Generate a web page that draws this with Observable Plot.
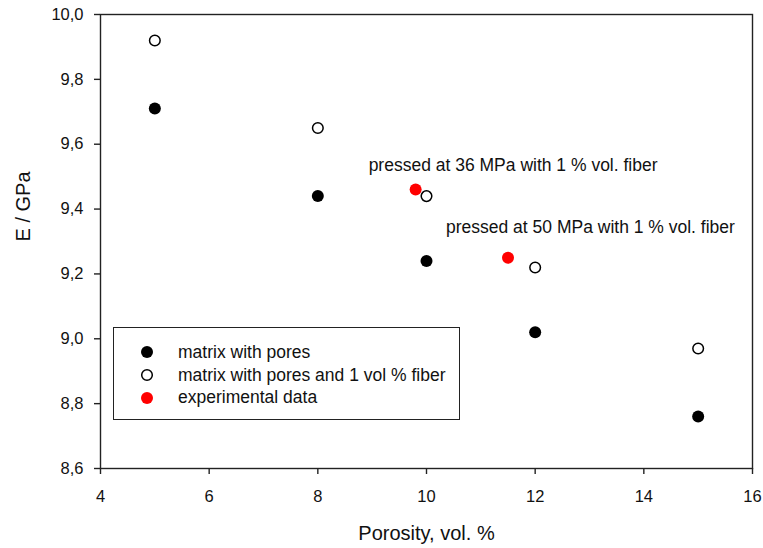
<!DOCTYPE html>
<html>
<head>
<meta charset="utf-8">
<script src="https://cdn.jsdelivr.net/npm/d3@7"></script>
<script src="https://cdn.jsdelivr.net/npm/@observablehq/plot@0.6"></script>
<style>
  html, body { margin: 0; padding: 0; background: #fff; }
  #chart { position: relative; width: 763px; height: 548px; font-family: "Liberation Sans", Arial, sans-serif; }
  #chart svg { display: block; }
  .legend { position: absolute; left: 113px; top: 327px; width: 347px; height: 93px; box-sizing: border-box;
            border: 1.4px solid #222; background: #fff; padding-top: 13px; }
  .legend .row { height: 22.7px; line-height: 22.7px; font-size: 17.5px; color: #111; white-space: nowrap; display: flex; align-items: center; }
  .legend svg { margin-left: 26px; margin-right: 24px; flex: none; }
</style>
</head>
<body>
<div id="chart"></div>
<script>
// --- data ---
const porosity = [5, 8, 10, 12, 15];
const eMatrix = [9.71, 9.44, 9.24, 9.02, 8.76];
const eFiber = [9.92, 9.65, 9.44, 9.22, 8.97];
const expPorosity = [9.8, 11.5];
const expE = [9.46, 9.25];
const expLabels = ["pressed at 36 MPa with 1 % vol. fiber", "pressed at 50 MPa with 1 % vol. fiber"];
const xTicks = [4, 6, 8, 10, 12, 14, 16];
const yTicks = [8.6, 8.8, 9.0, 9.2, 9.4, 9.6, 9.8, 10.0];
const seriesNames = ["matrix with pores", "matrix with pores and 1 vol % fiber", "experimental data"];
const xLabel = "Porosity, vol. %";
const yLabel = "E / GPa";

const matrixRows = porosity.map((p, i) => ({p, e: eMatrix[i]}));
const fiberRows = porosity.map((p, i) => ({p, e: eFiber[i]}));
const expRows = expPorosity.map((p, i) => ({p, e: expE[i], label: expLabels[i]}));

const ink = "#111";
const chart = Plot.plot({
  width: 763,
  height: 548,
  marginLeft: 100,
  marginRight: 11,
  marginTop: 14,
  marginBottom: 80,
  style: {fontFamily: "'Liberation Sans', Arial, sans-serif", color: ink, background: "#fff"},
  x: {domain: [4, 16]},
  y: {domain: [8.6, 10.0]},
  marks: [
    Plot.frame({stroke: "#222", strokeWidth: 1.4}),
    Plot.axisX(xTicks, {tickSize: 6, tickPadding: 16, fontSize: 16.5, stroke: "#222", strokeWidth: 1.4, label: null, tickFormat: d => String(d)}),
    Plot.axisY(yTicks, {tickSize: 6, tickPadding: 11, fontSize: 16.5, stroke: "#222", strokeWidth: 1.4, label: null, tickFormat: d => d.toFixed(1).replace(".", ",")}),
    Plot.text([xLabel], {frameAnchor: "bottom", dy: 65, fontSize: 20, lineAnchor: "middle", fill: ink}),
    Plot.text([yLabel], {frameAnchor: "left", dx: -77, rotate: -90, fontSize: 20, lineAnchor: "middle", fill: ink}),
    Plot.dot(matrixRows, {x: "p", y: "e", r: 6, fill: "#000", stroke: "none"}),
    Plot.dot(expRows, {x: "p", y: "e", r: 6, fill: "#ff0000", stroke: "none"}),
    Plot.dot(fiberRows, {x: "p", y: "e", r: 5.3, fill: "#fff", stroke: "#000", strokeWidth: 1.5}),
    Plot.text(expRows.slice(0, 1), {x: "p", y: "e", text: "label", textAnchor: "start", dx: -47, dy: -24, fontSize: 17.5, fill: ink}),
    Plot.text(expRows.slice(1, 2), {x: "p", y: "e", text: "label", textAnchor: "start", dx: -62, dy: -30, fontSize: 17.5, fill: ink})
  ]
});

const container = document.getElementById("chart");
container.appendChild(chart);

// legend (HTML overlay inside plot area)
const legendStyles = [
  {fill: "#000", stroke: "none", r: 6},
  {fill: "#fff", stroke: "#000", r: 5.3},
  {fill: "#ff0000", stroke: "none", r: 6}
];
const legend = d3.select(container).append("div").attr("class", "legend");
seriesNames.forEach((name, i) => {
  const row = legend.append("div").attr("class", "row");
  const s = row.append("svg").attr("width", 14).attr("height", 14);
  s.append("circle").attr("cx", 7).attr("cy", 7).attr("r", legendStyles[i].r)
    .attr("fill", legendStyles[i].fill).attr("stroke", legendStyles[i].stroke).attr("stroke-width", 1.5);
  row.append("span").text(name);
});
</script>
</body>
</html>
